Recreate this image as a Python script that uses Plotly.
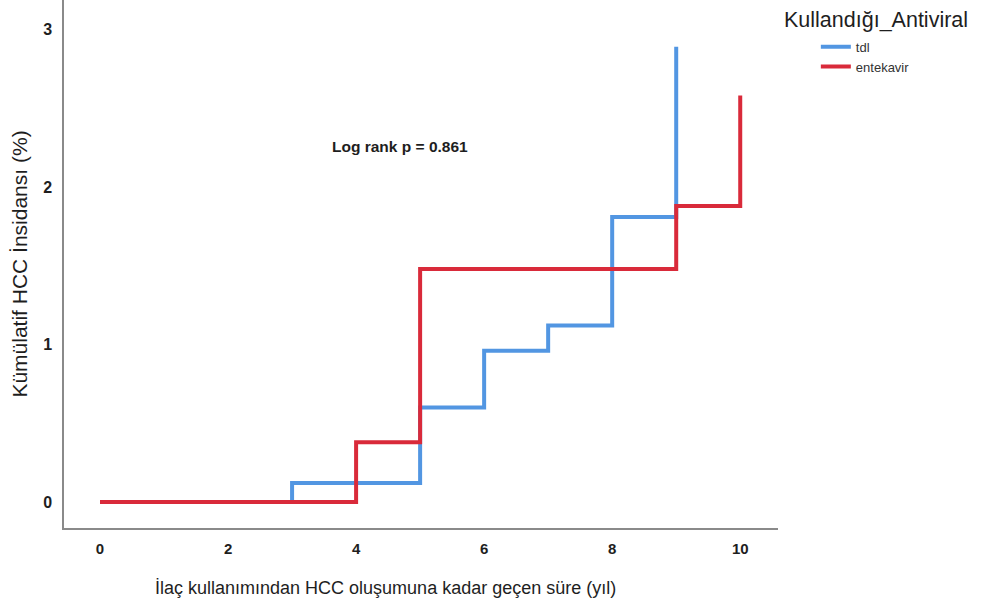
import plotly.graph_objects as go

# Cumulative HCC incidence (%) by follow-up year for each antiviral group
tdl_years = [0, 3, 5, 6, 7, 8, 9]
tdl_incidence = [0, 0.12, 0.60, 0.96, 1.12, 1.81, 2.89]

entekavir_years = [0, 4, 5, 9, 10]
entekavir_incidence = [0, 0.38, 1.48, 1.88, 2.58]

x_ticks = [0, 2, 4, 6, 8, 10]
y_ticks = [0, 1, 2, 3]

BLUE = "#5296e2"
RED = "#d92a3a"
FONT = "Liberation Sans"
INK = "#1e1e1e"

fig = go.Figure()
fig.add_trace(go.Scatter(
    x=tdl_years, y=tdl_incidence, mode="lines", name="tdl",
    line=dict(color=BLUE, width=4, shape="hv"),
))
fig.add_trace(go.Scatter(
    x=entekavir_years, y=entekavir_incidence, mode="lines", name="entekavir",
    line=dict(color=RED, width=4, shape="hv"),
))

# Log-rank test result
fig.add_annotation(
    x=4.69, y=2.26, xref="x", yref="y", text="<b>Log rank p = 0.861</b>",
    showarrow=False, font=dict(family=FONT, size=15.5, color=INK),
)

# Legend heading, set apart from the legend entries
fig.add_annotation(
    x=1.006, y=0.962, xref="paper", yref="paper", xanchor="left", yanchor="middle",
    text="Kullandığı_Antiviral", showarrow=False,
    font=dict(family=FONT, size=21.5, color=INK),
)

# x-axis title
fig.add_annotation(
    x=0.45, y=-0.113, xref="paper", yref="paper", xanchor="center", yanchor="middle",
    text="İlaç kullanımından HCC oluşumuna kadar geçen süre (yıl)", showarrow=False,
    font=dict(family=FONT, size=18, color=INK),
)

fig.update_layout(
    width=999, height=609,
    margin=dict(l=64, r=221, t=0, b=81),
    paper_bgcolor="white", plot_bgcolor="white",
    font=dict(family=FONT, color=INK),
    showlegend=True,
    legend=dict(
        x=1.053, y=0.94, xanchor="left", yanchor="top",
        font=dict(size=13, color="#333"),
        tracegroupgap=0,
        bgcolor="rgba(0,0,0,0)",
    ),
    xaxis=dict(
        range=[-0.5625, 10.59], tickvals=x_ticks, showgrid=False, zeroline=False,
        showline=True, linecolor="#8a8a8a", linewidth=1.5, ticks="",
        tickfont=dict(size=15, color=INK, family=FONT, weight="bold"),
        ticklabelstandoff=6,
    ),
    yaxis=dict(
        range=[-0.165, 3.187], tickvals=y_ticks, showgrid=False, zeroline=False,
        showline=True, linecolor="#8a8a8a", linewidth=1.5, ticks="",
        tickfont=dict(size=16, color=INK, family=FONT, weight="bold"),
        ticklabelstandoff=7,
        title=dict(text="Kümülatif HCC İnsidansı (%)", font=dict(size=21, color=INK), standoff=10),
    ),
)

fig.write_html("out.html")
